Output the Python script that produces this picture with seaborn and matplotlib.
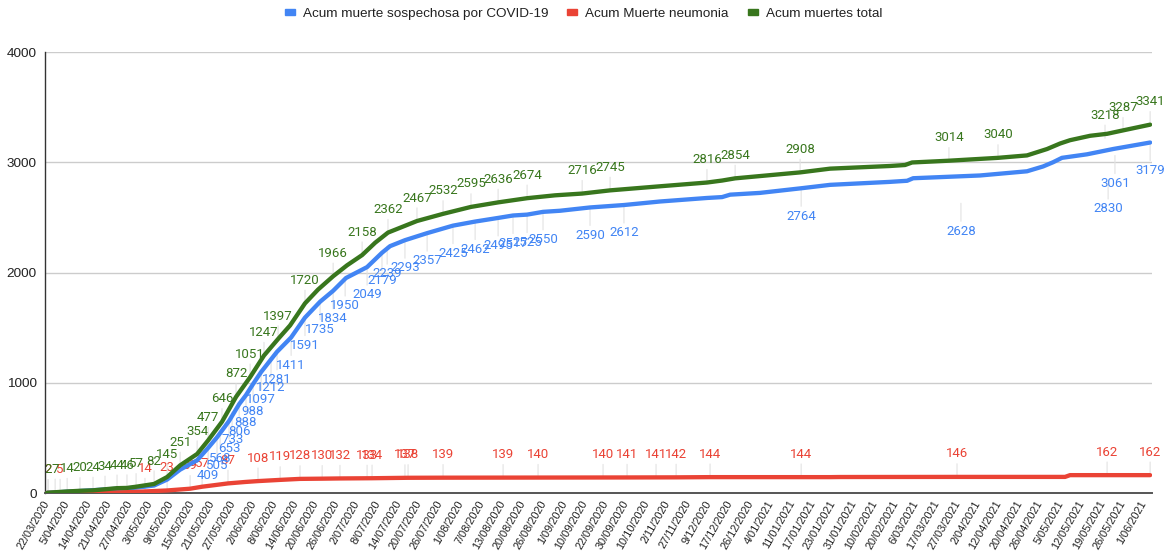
import numpy as np
import pandas as pd
import matplotlib
matplotlib.use("Agg")
import matplotlib.pyplot as plt
import seaborn as sns
from matplotlib import font_manager
from matplotlib.patches import Patch

# Fechas mostradas en el eje x (una etiqueta por marca)
fechas = ["22/03/2020", "5/04/2020", "14/04/2020", "21/04/2020", "27/04/2020", "3/05/2020",
          "9/05/2020", "15/05/2020", "21/05/2020", "27/05/2020", "2/06/2020", "8/06/2020",
          "14/06/2020", "20/06/2020", "26/06/2020", "2/07/2020", "8/07/2020", "14/07/2020",
          "20/07/2020", "26/07/2020", "1/08/2020", "7/08/2020", "13/08/2020", "20/08/2020",
          "26/08/2020", "1/09/2020", "10/09/2020", "22/09/2020", "30/09/2020", "10/10/2020",
          "2/11/2020", "27/11/2020", "9/12/2020", "17/12/2020", "26/12/2020", "4/01/2021",
          "11/01/2021", "17/01/2021", "23/01/2021", "31/01/2021", "10/02/2021", "20/02/2021",
          "6/03/2021", "17/03/2021", "27/03/2021", "2/04/2021", "12/04/2021", "20/04/2021",
          "26/04/2021", "5/05/2021", "12/05/2021", "19/05/2021", "26/05/2021", "1/06/2021"]

series = ["Acum muerte sospechosa por COVID-19", "Acum Muerte neumonia", "Acum muertes total"]
colores = ["#4285F4", "#EA4335", "#38761D"]

# posiciones en unidades de marca del eje x (lecturas del grafico)
covid_x = [0.00, 1.59, 3.04, 4.30, 5.17, 5.80, 6.43, 7.25, 7.78, 8.21, 8.79, 9.28, 9.61, 9.95,
           10.34, 10.82, 11.11, 11.79, 12.46, 13.19, 13.82, 14.44, 15.46, 16.18, 16.57, 17.29,
           18.36, 19.61, 20.68, 21.79, 22.51, 23.19, 23.96, 24.78, 26.23, 27.87, 29.61, 31.88,
           32.61, 33.00, 34.44, 36.43, 37.83, 40.72, 41.55, 41.84, 45.07, 47.34, 48.12, 48.60,
           49.03, 50.24, 51.50, 53.29]
covid_y = [1, 18, 35, 48, 68, 122, 212, 297, 409, 505, 653, 806, 888, 988, 1097, 1212, 1281,
           1411, 1591, 1735, 1834, 1950, 2049, 2179, 2239, 2293, 2357, 2425, 2462, 2495, 2517,
           2525, 2550, 2560, 2590, 2612, 2644, 2676, 2684, 2706, 2722, 2764, 2795, 2822, 2832,
           2855, 2880, 2918, 2962, 3000, 3040, 3072, 3120, 3179]

neumo_x = [0.00, 1.59, 3.04, 4.01, 4.73, 5.80, 6.91, 7.49, 8.12, 8.74, 9.57, 10.19, 11.26,
           12.22, 13.29, 14.15, 15.70, 17.44, 19.13, 23.72, 28.02, 30.39, 32.03, 37.83, 38.31,
           43.96, 49.18, 49.42, 53.29]
neumo_y = [1, 2, 4, 8, 14, 23, 39, 57, 72, 87, 100, 108, 119, 128, 130, 132, 134, 138, 139,
           140, 141, 142, 144, 144, 145, 146, 146, 162, 162]

total_x = [0.00, 0.39, 0.97, 1.59, 2.22, 2.80, 3.38, 3.86, 4.30, 5.17, 5.80, 6.43, 7.25, 7.78,
           8.45, 9.13, 9.81, 10.48, 11.16, 11.74, 12.46, 13.09, 13.82, 14.49, 15.22, 15.85,
           16.47, 17.87, 19.13, 20.48, 21.79, 23.19, 24.54, 25.85, 27.20, 29.61, 31.88, 32.61,
           33.24, 36.38, 37.83, 40.72, 41.45, 41.79, 43.57, 45.94, 47.34, 48.31, 48.94, 49.42,
           50.39, 51.21, 51.93, 53.29]
total_y = [2, 7, 14, 20, 24, 34, 44, 46, 57, 82, 145, 251, 354, 477, 646, 872, 1051, 1247,
           1397, 1520, 1720, 1845, 1966, 2065, 2158, 2270, 2362, 2467, 2532, 2595, 2636, 2674,
           2700, 2716, 2745, 2782, 2816, 2834, 2854, 2908, 2942, 2966, 2975, 2998, 3014, 3040,
           3062, 3120, 3170, 3200, 3240, 3258, 3287, 3341]

# etiquetas de datos visibles
et_total_x = [0.05, 0.39, 0.97, 1.59, 2.22, 2.80, 3.38, 3.86, 4.30, 5.17, 5.80, 6.43, 7.25,
              7.78, 8.45, 9.13, 9.81, 10.48, 11.16, 12.46, 13.82, 15.22, 16.47, 17.87, 19.13,
              20.48, 21.79, 23.19, 25.85, 27.20, 31.88, 33.24, 36.38, 43.57, 45.94, 51.11,
              51.98, 53.29]
et_total_v = [2, 7, 14, 20, 24, 34, 44, 46, 57, 82, 145, 251, 354, 477, 646, 872, 1051, 1247,
              1397, 1720, 1966, 2158, 2362, 2467, 2532, 2595, 2636, 2674, 2716, 2745, 2816,
              2854, 2908, 3014, 3040, 3218, 3287, 3341]

et_covid_x = [7.78, 8.21, 8.36, 8.79, 8.94, 9.28, 9.61, 9.95, 10.34, 10.82, 11.11, 11.79,
              12.46, 13.19, 13.82, 14.40, 15.46, 16.18, 16.43, 17.29, 18.36, 19.61, 20.68,
              21.79, 22.51, 23.19, 23.96, 26.23, 27.87, 36.43, 44.15, 51.26, 51.59, 53.29]
et_covid_v = [409, 505, 568, 653, 733, 806, 888, 988, 1097, 1212, 1281, 1411, 1591, 1735, 1834,
              1950, 2049, 2179, 2239, 2293, 2357, 2425, 2462, 2495, 2517, 2525, 2550, 2590,
              2612, 2764, 2628, 2830, 3061, 3179]

et_neumo_x = [0.05, 0.63, 4.73, 5.80, 6.91, 7.49, 8.74, 10.19, 11.26, 12.22, 13.29, 14.15,
              15.46, 15.70, 17.29, 17.44, 19.13, 22.03, 23.72, 26.86, 28.02, 29.42, 30.39,
              32.03, 36.43, 43.96, 51.21, 53.29]
et_neumo_v = [2, 5, 14, 23, 39, 57, 87, 108, 119, 128, 130, 132, 133, 134, 137, 138, 139, 139,
              140, 140, 141, 141, 142, 144, 144, 146, 162, 162]

# tabla larga para seaborn
df = pd.concat([
    pd.DataFrame({"x": covid_x, "valor": covid_y, "serie": series[0]}),
    pd.DataFrame({"x": neumo_x, "valor": neumo_y, "serie": series[1]}),
    pd.DataFrame({"x": total_x, "valor": total_y, "serie": series[2]}),
], ignore_index=True)

sns.set_style("white")
nombres = {f.name for f in font_manager.fontManager.ttflist}
if "Liberation Sans Narrow" in nombres:
    eje_font, ytk, xtk, leg = "Liberation Sans Narrow", 11.5, 9.6, 11.5
else:
    eje_font, ytk, xtk, leg = "Liberation Sans", 9.7, 7.9, 9.7
plt.rcParams["font.family"] = [eje_font, "DejaVu Sans"]

fig = plt.figure(figsize=(11.67, 5.56), dpi=100)
ax = fig.add_axes([45 / 1167, 63 / 556, 1107 / 1167, 441 / 556])

sns.lineplot(data=df, x="x", y="valor", hue="serie", hue_order=series,
             palette=dict(zip(series, colores)), estimator=None, sort=False,
             linewidth=3.1, legend=False, ax=ax, zorder=3)

ax.set_xlim(-0.1, 53.38)
ax.set_ylim(0, 4000)
ax.set_yticks([0, 1000, 2000, 3000, 4000])
ax.set_xticks(np.arange(len(fechas)))
ax.set_xticklabels(fechas, rotation=60, ha="right", va="center", rotation_mode="anchor",
                   fontsize=xtk, color="#222222")
ax.tick_params(axis="x", length=0, pad=6)
ax.tick_params(axis="y", length=0, pad=6, labelsize=ytk, labelcolor="#222222")
ax.set_xlabel("")
ax.set_ylabel("")
ax.grid(axis="y", color="#cccccc", linewidth=1)
ax.grid(axis="x", visible=False)
ax.set_axisbelow(True)
for s in ["top", "right"]:
    ax.spines[s].set_visible(False)
ax.spines["left"].set_color("#333333")
ax.spines["left"].set_linewidth(1)
ax.spines["bottom"].set_color("#555555")
ax.spines["bottom"].set_linewidth(1.4)


def etiquetas(xs, vals, color, dy):
    for x, v in zip(xs, vals):
        ax.annotate(str(v), xy=(x, v), xytext=(0, dy), textcoords="offset points",
                    ha="center", va="center", color=color, fontsize=9.5, family="Roboto",
                    arrowprops=dict(arrowstyle="-", color="#e2e2e2", lw=0.8,
                                    shrinkA=0, shrinkB=0),
                    zorder=2)


etiquetas(et_neumo_x, et_neumo_v, colores[1], 16.5)
etiquetas(et_total_x, et_total_v, colores[2], 16.5)
etiquetas(et_covid_x, et_covid_v, colores[0], -20)

handles = [Patch(facecolor=c, edgecolor=c, label=s) for s, c in zip(series, colores)]
fig.legend(handles=handles, loc="center", bbox_to_anchor=(0.5, 0.975), ncol=3,
           frameon=False, fontsize=leg, handlelength=0.75, handleheight=0.4,
           handletextpad=0.6, columnspacing=1.4, labelcolor="#222222")

fig.savefig("out.png", dpi=100)
